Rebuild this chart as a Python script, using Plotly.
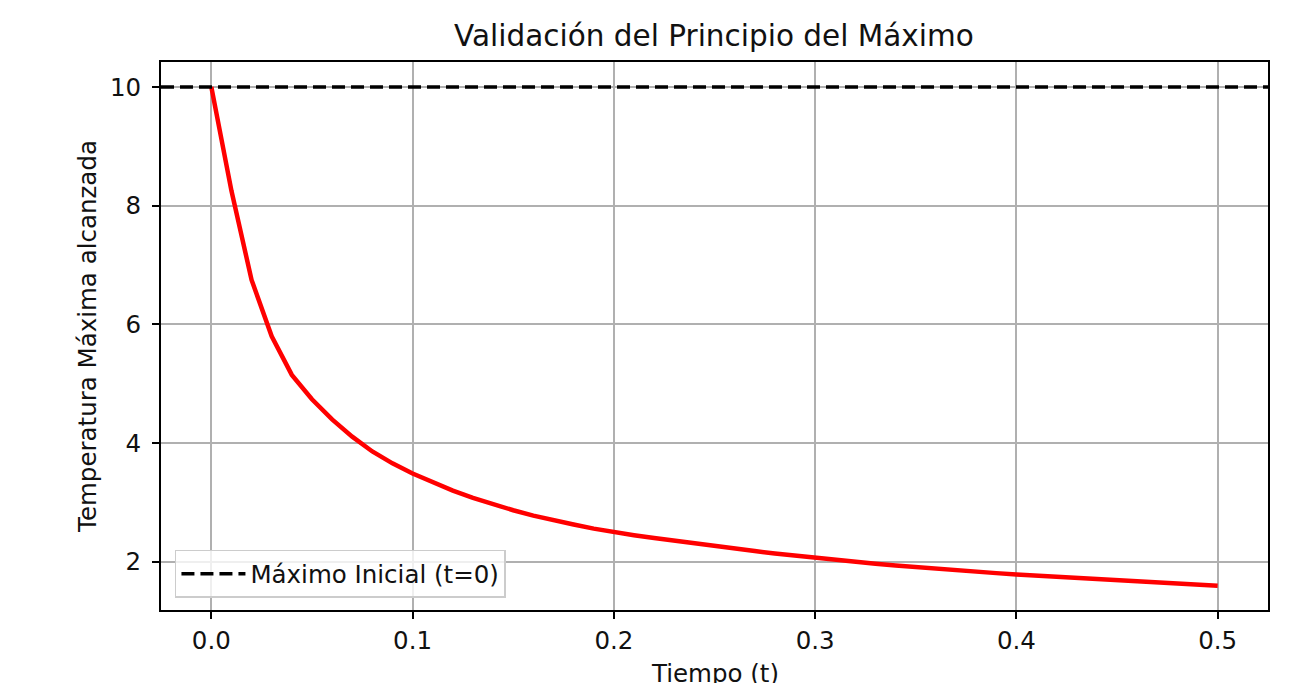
import plotly.graph_objects as go

# Data
tiempo = [0.00, 0.01, 0.02, 0.03, 0.04, 0.05, 0.06, 0.07, 0.08, 0.09,
          0.10, 0.11, 0.12, 0.13, 0.14, 0.15, 0.16, 0.17, 0.18, 0.19,
          0.20, 0.21, 0.22, 0.23, 0.24, 0.25, 0.26, 0.27, 0.28, 0.29,
          0.30, 0.31, 0.32, 0.33, 0.34, 0.35, 0.36, 0.37, 0.38, 0.39,
          0.40, 0.41, 0.42, 0.43, 0.44, 0.45, 0.46, 0.47, 0.48, 0.49, 0.50]
temp_max = [10.00, 8.25, 6.75, 5.80, 5.15, 4.74, 4.40, 4.11, 3.86, 3.66,
            3.49, 3.34, 3.20, 3.08, 2.97, 2.87, 2.78, 2.70, 2.63, 2.56,
            2.500, 2.450, 2.402, 2.355, 2.309, 2.265, 2.223, 2.182, 2.143, 2.105,
            2.069, 2.034, 2.001, 1.969, 1.939, 1.910, 1.883, 1.858, 1.834, 1.811,
            1.790, 1.769, 1.749, 1.729, 1.710, 1.691, 1.672, 1.654, 1.636, 1.618, 1.600]
maximo_inicial = temp_max[0]
x_ticks = [0.0, 0.1, 0.2, 0.3, 0.4, 0.5]
x_tick_labels = ["0.0", "0.1", "0.2", "0.3", "0.4", "0.5"]
y_ticks = [2, 4, 6, 8, 10]
y_tick_labels = ["2", "4", "6", "8", "10"]

FONT = "DejaVu Sans"
FS = 24.5
TXT = "#111111"

fig = go.Figure()
fig.add_trace(go.Scatter(
    x=tiempo, y=temp_max, mode="lines",
    line=dict(color="red", width=4.5), showlegend=False,
))
fig.add_hline(y=maximo_inicial, line=dict(color="black", width=3.5, dash="13px,6px"), layer="above")
fig.add_trace(go.Scatter(
    x=[None], y=[None], mode="lines", name="Máximo Inicial (t=0)",
    line=dict(color="black", width=3.5, dash="13px,6px"),
))

axis_common = dict(
    showline=True, linecolor="black", linewidth=2, mirror=True,
    ticks="outside", ticklen=7, tickwidth=2, tickcolor="black",
    showgrid=True, gridcolor="#b0b0b0", gridwidth=2,
    zeroline=False, tickfont=dict(family=FONT, size=FS, color=TXT),
    automargin=False,
)

fig.update_layout(
    width=1291, height=683,
    margin=dict(l=161, r=23, t=62, b=73),
    paper_bgcolor="white", plot_bgcolor="white",
    font=dict(family=FONT, size=FS, color=TXT),
    title=dict(text="Validación del Principio del Máximo", x=0.553, xanchor="center",
               y=0.948, yanchor="middle", font=dict(family=FONT, size=29.5, color=TXT)),
    xaxis=dict(range=[-0.025, 0.525], tickvals=x_ticks, ticktext=x_tick_labels,
               ticklabelstandoff=1, **axis_common),
    yaxis=dict(range=[1.19, 10.42], tickvals=y_ticks, ticktext=y_tick_labels,
               ticklabelstandoff=6,
               title=dict(text="Temperatura Máxima alcanzada", standoff=6,
                          font=dict(family=FONT, size=FS, color=TXT)),
               **axis_common),
    legend=dict(x=0.0126, y=0.022, xanchor="left", yanchor="bottom",
                bgcolor="rgba(255,255,255,0.8)", bordercolor="#cccccc", borderwidth=1.5,
                itemwidth=64,
                font=dict(family=FONT, size=FS, color=TXT)),
)
# x-axis title placed as an annotation so it can sit partly below the page edge like the reference
fig.add_annotation(text="Tiempo (t)", xref="paper", yref="paper", x=0.5, y=0,
                   xanchor="center", yanchor="top", yshift=-47, showarrow=False,
                   font=dict(family=FONT, size=FS, color=TXT))

fig.write_html("out.html")
